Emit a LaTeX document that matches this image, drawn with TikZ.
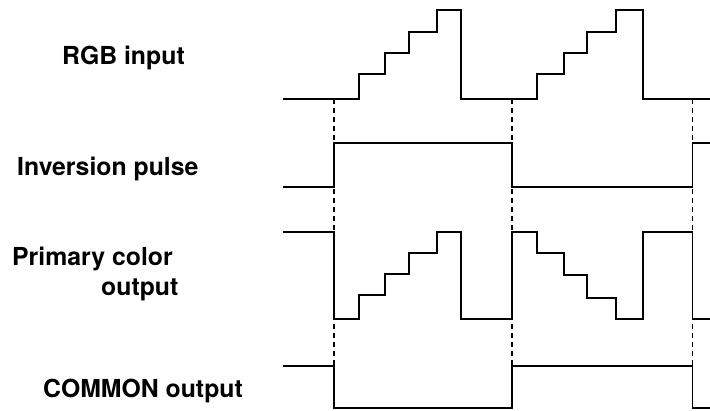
\documentclass[tikz,border=0pt]{standalone}
\usepackage{fontspec}
\setmainfont{TeX Gyre Heros}
\tikzset{
    signal/.style={line width=1.5pt, line join=miter},
    marker/.style={line width=1.3pt, dash pattern=on 5pt off 4pt, black},
    sig label/.style={font=\fontsize{24.8}{30}\selectfont\bfseries, inner sep=0pt, anchor=base west}
}
\begin{document}
\begin{tikzpicture}[x=1pt,y=-1pt]
    \useasboundingbox (0,0) rectangle (710,410);

    % dashed time markers
    \foreach \t in {334,512,692.7}
        \draw[marker] (\t,99) -- (\t,366);

    % signal names
    \node[sig label] (rgb) at (62,64) {RGB input};
    \node[sig label] (inv) at (17,175) {Inversion pulse};
    \node[sig label] (prim) at (12,265) {Primary color};
    \node[sig label] (primb) at (101,295) {output};
    \node[sig label] (com) at (43,397) {COMMON output};

    % RGB input
    \draw[signal] (283,99) -- (359,99) -- (359,74) -- (385,74) -- (385,53)
        -- (409,53) -- (409,32) -- (437,32) -- (437,10) -- (461,10) -- (461,99)
        -- (537,99) -- (537,74) -- (564,74) -- (564,53) -- (587,53) -- (587,32)
        -- (616,32) -- (616,10) -- (643,10) -- (643,99) -- (710,99);

    % inversion pulse
    \draw[signal] (283,187) -- (334,187) -- (334,143) -- (512,143) -- (512,187)
        -- (692.7,187) -- (692.7,143) -- (710,143);

    % primary color output
    \draw[signal] (283,232) -- (334,232) -- (334,319) -- (359,319) -- (359,295)
        -- (385,295) -- (385,274) -- (409,274) -- (409,253) -- (437,253)
        -- (437,232) -- (461,232) -- (461,319) -- (512,319) -- (512,232)
        -- (537,232) -- (537,253) -- (564,253) -- (564,275) -- (587,275)
        -- (587,298) -- (616,298) -- (616,319) -- (643,319) -- (643,232)
        -- (692.7,232) -- (692.7,319) -- (710,319);

    % COMMON output
    \draw[signal] (283,366) -- (334,366) -- (334,408) -- (512,408) -- (512,366)
        -- (692.7,366) -- (692.7,408) -- (710,408);
\end{tikzpicture}
\end{document}
